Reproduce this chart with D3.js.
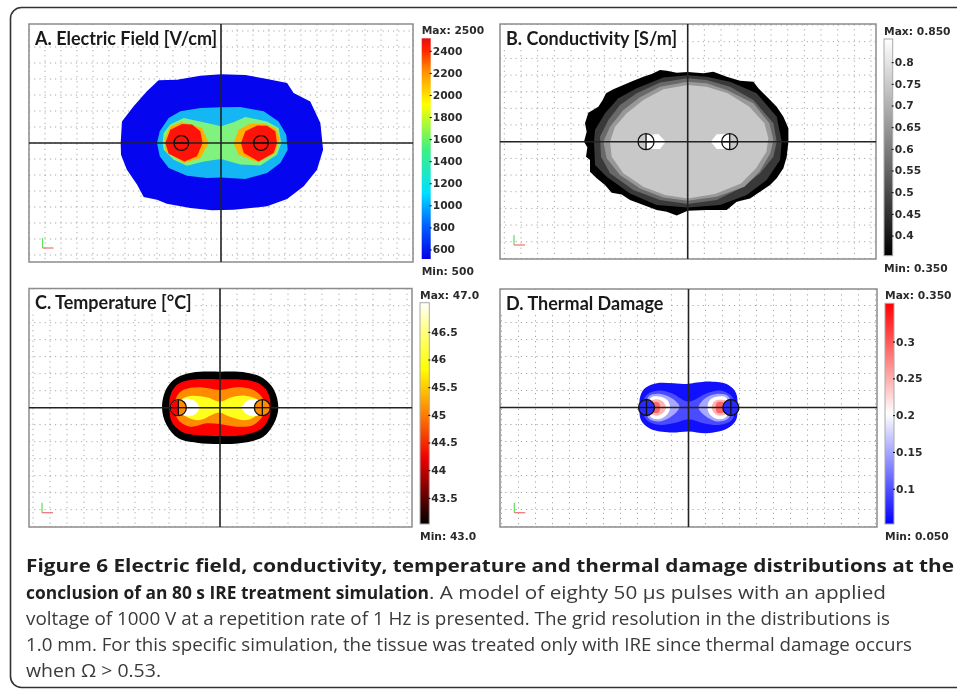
<!DOCTYPE html>
<html>
<head>
<meta charset="utf-8">
<script src="https://cdn.jsdelivr.net/npm/d3@7"></script>
<style>
html, body { margin: 0; padding: 0; background: #fff; overflow: hidden; }
svg { display: block; filter: blur(0.45px); }
.panel-title { font-family: Lato, sans-serif; font-weight: 700; fill: #1a1a1a; }
.bar-text { font-family: "DejaVu Sans", sans-serif; font-weight: 700; font-size: 10.7px; fill: #2a2a2a; }
.tick text { font-family: "DejaVu Sans", sans-serif; font-weight: 700; font-size: 10.7px; fill: #2a2a2a; }
.caption { font-family: "Open Sans", sans-serif; font-size: 18px; fill: #3a3a3a; }
.caption-b { font-family: "Open Sans", sans-serif; font-size: 18px; font-weight: 700; fill: #1f1f1f; }
</style>
</head>
<body>
<div id="chart"></div>
<script>
// all contour points are [x, y] in grid units from the centre of each plot
// A. electric field
var fieldOuter = [[0,4.29],[-1.29,4.21],[-2.75,3.96],[-3.9,3.92],[-4.63,3.23],[-5.46,2.29],[-6.19,1.35],[-6.27,0],[-6.25,-0.73],[-5.88,-1.67],[-5.25,-2.6],[-4.83,-3.38],[-4,-3.54],[-3.38,-3.79],[-1.92,-4.06],[-0.56,-4.21],[0.79,-4.17],[2.88,-3.96],[4.13,-3.5],[5.17,-2.71],[6,-1.67],[6.38,-0.42],[6.21,1.25],[5.58,2.6],[4.54,3.13],[4.13,3.75],[2.88,4],[1.52,4.25]]
var fieldCyan = [[0,2.23],[-1.29,2.19],[-2.54,1.98],[-3.27,1.56],[-3.83,0.73],[-4,0],[-3.83,-0.83],[-3.27,-1.56],[-2.13,-2.04],[-0.88,-2.19],[0,-2.15],[1.52,-2.25],[2.88,-1.88],[3.71,-1.25],[4.17,-0.42],[4.08,0.52],[3.6,1.35],[2.67,1.98],[1.21,2.25]]
var fieldGreen = [[0,1.04],[-0.88,1.25],[-2.33,1.56],[-3.17,1.15],[-3.58,0.63],[-3.65,0],[-3.58,-0.42],[-2.96,-1.04],[-2.13,-1.42],[-1.08,-1.15],[0,-1],[1.21,-1.35],[2.46,-1.4],[3.5,-0.73],[3.77,0],[3.6,0.94],[2.88,1.35],[1.52,1.63],[0.79,1.29]]
var fieldOrangeL = [[-2.44,1.31],[-3.17,1.04],[-3.54,0.21],[-3.44,-0.52],[-2.33,-1.25],[-1.29,-0.94],[-0.77,0],[-1.19,0.94]]
var fieldOrangeR = [[1.83,1.21],[1.1,0.83],[0.79,0],[1.1,-0.73],[2.35,-1.21],[3.4,-0.63],[3.67,0.31],[3.4,0.94],[2.67,1.21]]
var fieldRedL = [[-2.44,1.19],[-3.17,0.83],[-3.48,0],[-3.27,-0.67],[-2.29,-1.15],[-1.5,-0.83],[-1.15,0],[-1.29,0.73],[-1.81,1.15]]
var fieldRedR = [[2.25,1.1],[1.52,0.73],[1.25,0],[1.42,-0.63],[2.35,-1.15],[3.29,-0.63],[3.5,0],[3.4,0.73],[2.88,1.08]]
var fieldColors = ['#0505f0', '#14b6f4', '#80f27e', '#ffb000', '#ffb000', '#ff1208', '#ff1208']
var fieldTicks = [600,800,1000,1200,1400,1600,1800,2000,2200,2400]
var fieldStops = [500,800,1100,1500,1900,2200,2400,2500]
var fieldStopColors = ['#0000e6','#0060ff','#00e0ff','#40f080','#ffff00','#ff9000','#ff2000','#e01010']
var fieldElectrodes = [-2.48, 2.5]

// B. conductivity
var condOuter = [[0,4.18],[-0.66,4.14],[-1.26,4.26],[-1.66,4.3],[-2.16,4.06],[-2.66,3.9],[-3.26,3.66],[-3.86,3.4],[-4.46,3.14],[-4.9,2.9],[-5.1,2.5],[-5.36,2.1],[-5.96,1.74],[-6.16,1.1],[-6.06,0.6],[-6.22,0],[-6.02,-0.34],[-6.1,-0.9],[-5.86,-1.1],[-5.86,-1.8],[-5.46,-2.2],[-4.96,-2.6],[-4.56,-3.06],[-3.96,-3.16],[-3.46,-3.5],[-2.66,-3.8],[-1.86,-4.1],[-1.26,-4.2],[-0.66,-4.42],[0,-4.14],[1.14,-4.1],[2.34,-4.1],[2.94,-3.6],[3.74,-3.4],[4.34,-3],[4.94,-2.6],[5.34,-2.2],[5.74,-1.6],[5.94,-0.9],[6.04,0],[6.04,0.8],[5.74,1.5],[5.34,2.1],[4.84,2.6],[4.24,3.2],[3.94,3.6],[3.14,3.66],[2.34,3.9],[1.54,4.2],[0.94,4.1]]
var condGrey1 = [[0,3.98],[-1.46,3.85],[-3.06,3.2],[-4.16,2.6],[-4.96,1.7],[-5.56,0.7],[-5.62,0],[-5.56,-1.4],[-4.86,-2.1],[-3.46,-3.1],[-1.86,-3.8],[0,-3.94],[1.94,-3.8],[3.54,-3.2],[4.74,-2.3],[5.54,-1.1],[5.64,0],[5.34,1.5],[4.14,2.9],[2.54,3.6],[1.14,3.9]]
var condGrey2 = [[0,3.8],[-1.66,3.55],[-3.06,2.9],[-4.06,2.2],[-4.76,1.3],[-5.26,0.3],[-5.2,-0.9],[-4.66,-1.9],[-3.26,-2.9],[-1.66,-3.5],[0,-3.74],[1.74,-3.5],[3.34,-2.7],[4.34,-1.9],[5.14,-0.9],[5.34,0],[5.14,1.1],[3.94,2.5],[2.54,3.3],[1.14,3.7]]
var condGrey3 = [[0,3.6],[-1.66,3.3],[-2.86,2.66],[-3.86,1.9],[-4.66,0.9],[-5.06,0],[-4.86,-1],[-4.06,-2],[-2.86,-2.8],[-1.46,-3.34],[0,-3.54],[1.74,-3.3],[3.4,-2.7],[4.3,-1.8],[4.96,-0.7],[5.14,0.1],[4.9,1.1],[3.94,2.3],[2.34,3.1],[1.14,3.5]]
var condGrey4 = [[0,3.4],[-1.46,3.14],[-2.66,2.5],[-3.66,1.7],[-4.36,0.9],[-4.66,0],[-4.56,-0.9],[-3.86,-1.9],[-2.66,-2.7],[-1.36,-3.2],[0,-3.4],[1.64,-3.14],[3.2,-2.5],[4.1,-1.6],[4.72,-0.6],[4.84,0.2],[4.6,1.1],[3.7,2.1],[2.4,2.9],[1.14,3.3]]
var condWhiteL = [[-2.46,0.4],[-1.76,0.46],[-1.32,0],[-1.66,-0.44],[-2.46,-0.44]]
var condWhiteR = [[1.38,0],[1.74,0.44],[2.54,0.46],[2.54,-0.44],[1.74,-0.44]]
var condColors = ['#000000', '#393939', '#696969', '#989898', '#c8c8c8', '#ffffff', '#ffffff']
var condTicks = [0.4,0.45,0.5,0.55,0.6,0.65,0.7,0.75,0.8]
var condStops = [0.35,0.85]
var condStopColors = ['#000000','#ffffff']
var condElectrodes = [-2.5, 2.52]

// C. temperature
var tempOuter = [[0,2.12],[-1.67,2.06],[-2.55,1.76],[-3.14,1.14],[-3.41,0],[-3.14,-1.02],[-2.45,-1.8],[-1.37,-2.06],[0,-2.14],[1.37,-2.06],[2.55,-1.71],[3.18,-0.92],[3.43,0],[3.18,1.04],[2.55,1.73],[1.57,2.06]]
var tempRed = [[0,1.67],[-1.76,1.63],[-2.55,1.33],[-2.94,0.65],[-2.98,0],[-2.84,-0.82],[-2.25,-1.41],[-1.37,-1.61],[0,-1.67],[1.37,-1.61],[2.45,-1.22],[2.9,-0.53],[2.98,0],[2.84,0.84],[2.35,1.39],[1.57,1.63]]
var tempOrange = [[0,1.04],[-1.18,1.2],[-2.16,1.04],[-2.55,0.65],[-2.65,0],[-2.45,-0.73],[-1.76,-1.12],[-0.78,-0.92],[0,-0.96],[0.98,-1.12],[1.96,-1.02],[2.55,-0.43],[2.65,0],[2.45,0.65],[1.86,1.08],[0.98,1.2]]
var tempYellow = [[0,0.35],[-0.78,0.61],[-1.76,0.69],[-2.25,0.49],[-2.35,0],[-1.96,-0.53],[-1.18,-0.73],[-0.49,-0.43],[0,-0.29],[0.59,-0.53],[1.57,-0.73],[2.16,-0.43],[2.35,0],[2.16,0.49],[1.47,0.71],[0.69,0.61]]
var tempWhiteL = [[-2.16,0.49],[-1.57,0.45],[-1.22,0],[-1.53,-0.43],[-2.16,-0.43]]
var tempWhiteR = [[1.27,0],[1.67,0.45],[2.25,0.45],[2.25,-0.43],[1.67,-0.43]]
var tempColors = ['#000000', '#ff0000', '#ff8c00', '#ffff1e', '#ffffff', '#ffffff']
var tempTicks = [43.5,44,44.5,45,45.5,46,46.5]
var tempStops = [43,43.4,44.2,45,45.8,46.5,47]
var tempStopColors = ['#000000','#500000','#f00000','#ff8000','#ffff00','#ffff80','#ffffff']
var tempElectrodes = [-2.45, 2.49]

// D. thermal damage
var damageOuter = [[0,1.39],[-0.88,1.43],[-1.86,1.43],[-2.55,1.14],[-2.84,0.65],[-2.88,0],[-2.8,-0.73],[-2.25,-1.25],[-1.08,-1.47],[0,-1.41],[1.08,-1.51],[2.25,-1.25],[2.8,-0.73],[2.88,0],[2.8,0.84],[2.35,1.33],[1.27,1.53],[0.49,1.47]]
var damageBand = [[0,0.35],[-0.98,0.84],[-1.76,1],[-2.45,0.75],[-2.75,0],[-2.45,-0.73],[-1.76,-1.02],[-0.69,-0.88],[0,-0.69],[0.88,-0.92],[1.86,-1.02],[2.55,-0.73],[2.75,0],[2.55,0.65],[1.86,1],[1.08,0.84]]
var damageLightL = [[-0.53,0.06],[-0.98,0.55],[-1.67,0.8],[-2.35,0.65],[-2.45,0],[-2.35,-0.63],[-1.67,-0.82],[-0.88,-0.43]]
var damageLightR = [[0.59,0],[0.98,0.55],[1.67,0.8],[2.35,0.65],[2.49,0],[2.35,-0.63],[1.67,-0.82],[0.98,-0.49]]
var damageWhiteL = [[-1.08,0],[-1.27,0.45],[-1.76,0.65],[-2.25,0.55],[-2.25,-0.53],[-1.76,-0.69],[-1.27,-0.43]]
var damageWhiteR = [[1.12,0],[1.27,0.45],[1.76,0.65],[2.25,0.55],[2.25,-0.53],[1.76,-0.69],[1.27,-0.43]]
var damagePinkL = [[-1.33,0],[-1.51,0.35],[-1.86,0.49],[-2.25,0.35],[-2.25,-0.33],[-1.86,-0.49],[-1.51,-0.33]]
var damagePinkR = [[1.37,0],[1.51,0.35],[1.86,0.45],[2.25,0.35],[2.25,-0.33],[1.86,-0.49],[1.51,-0.33]]
var damageRedL = [[-1.67,0],[-1.76,0.29],[-2.06,0.29],[-2.06,-0.29],[-1.76,-0.29]]
var damageRedR = [[1.61,0],[1.67,0.29],[2.06,0.29],[2.06,-0.29],[1.67,-0.29]]
var damageColors = ['#1010fc', '#4b4bff', '#a8a8ff', '#a8a8ff', '#ffffff', '#ffffff', '#ffb4b4', '#ffb4b4', '#ff6464', '#ff6464']
var damageTicks = [0.1,0.15,0.2,0.25,0.3]
var damageStops = [0.05,0.2,0.35]
var damageStopColors = ['#0000ff','#ffffff','#ff0000']
var damageElectrodes = [-2.47, 2.49]

var panelTitles = ['A. Electric Field [V/cm]', 'B. Conductivity [S/m]', 'C. Temperature [°C]', 'D. Thermal Damage']
var maxLabels = ['Max: 2500', 'Max: 0.850', 'Max: 47.0', 'Max: 0.350']
var minLabels = ['Min: 500', 'Min: 0.350', 'Min: 43.0', 'Min: 0.050']

var width = 957
var height = 691

var svg = d3.select('#chart')
    .append('svg')
    .attr('width', width)
    .attr('height', height)

// outer figure frame, runs off the right side of the page
svg.append('rect')
    .attr('x', 10.5)
    .attr('y', 7.5)
    .attr('width', 1000)
    .attr('height', 680)
    .attr('rx', 11)
    .attr('fill', 'none')
    .attr('stroke', '#333')
    .attr('stroke-width', 1.6)

var panels = [
    {title: panelTitles[0], maxLabel: maxLabels[0], minLabel: minLabels[0], box: [29, 24, 413, 262], cx: 221, cy: 143, unit: 16, titleW: 190,
     shapes: [fieldOuter, fieldCyan, fieldGreen, fieldOrangeL, fieldOrangeR, fieldRedL, fieldRedR], colors: fieldColors, curve: d3.curveLinearClosed,
     electrodes: fieldElectrodes, radius: 0.46, cross: false, fill: ['none', 'none'],
     bar: [421.7, 38.3, 430.7, 259], barMin: 500, barMax: 2500, ticks: fieldTicks, stops: fieldStops, stopColors: fieldStopColors, triad: [42.5, 248]},
    {title: panelTitles[1], maxLabel: maxLabels[1], minLabel: minLabels[1], box: [500, 24, 876, 259], cx: 687.7, cy: 141.7, unit: 16.67, titleW: 180,
     shapes: [condOuter, condGrey1, condGrey2, condGrey3, condGrey4, condWhiteL, condWhiteR], colors: condColors, curve: d3.curveLinearClosed,
     electrodes: condElectrodes, radius: 0.48, cross: true, fill: ['none', 'none'],
     bar: [884, 39, 892.7, 255.7], barMin: 0.35, barMax: 0.85, ticks: condTicks, stops: condStops, stopColors: condStopColors, triad: [514, 245]},
    {title: panelTitles[2], maxLabel: maxLabels[2], minLabel: minLabels[2], box: [29, 288.5, 412, 527], cx: 220, cy: 407.7, unit: 17, titleW: 165,
     shapes: [tempOuter, tempRed, tempOrange, tempYellow, tempWhiteL, tempWhiteR], colors: tempColors, curve: d3.curveCatmullRomClosed,
     electrodes: tempElectrodes, radius: 0.47, cross: true, fill: ['#ff8c00', '#ff8c00'],
     bar: [420, 302.7, 429.3, 524], barMin: 43, barMax: 47, ticks: tempTicks, stops: tempStops, stopColors: tempStopColors, triad: [42, 512.7]},
    {title: panelTitles[3], maxLabel: maxLabels[3], minLabel: minLabels[3], box: [500, 289, 877, 527], cx: 688.5, cy: 407.5, unit: 17, titleW: 170,
     shapes: [damageOuter, damageBand, damageLightL, damageLightR, damageWhiteL, damageWhiteR, damagePinkL, damagePinkR, damageRedL, damageRedR], colors: damageColors, curve: d3.curveCatmullRomClosed,
     electrodes: damageElectrodes, radius: 0.47, cross: true, fill: ['#2a2aff', '#2a2aff'],
     bar: [885, 303.3, 894, 524], barMin: 0.05, barMax: 0.35, ticks: damageTicks, stops: damageStops, stopColors: damageStopColors, triad: [514.3, 512.7]}
]

panels.forEach(function(p, idx){
    var x0 = p.box[0], y0 = p.box[1], x1 = p.box[2], y1 = p.box[3]
    var x = d3.scaleLinear()
        .domain([(x0 - p.cx) / p.unit, (x1 - p.cx) / p.unit])
        .range([x0, x1])
    var y = d3.scaleLinear()
        .domain([(p.cy - y1) / p.unit, (p.cy - y0) / p.unit])
        .range([y1, y0])

    var g = svg.append('g')

    // dotted grid
    var gridX = d3.range(Math.ceil(x.domain()[0]), Math.floor(x.domain()[1]) + 1)
    var gridY = d3.range(Math.ceil(y.domain()[0]), Math.floor(y.domain()[1]) + 1)
    g.selectAll('.gx').data(gridX).enter().append('line')
        .attr('x1', function(d){ return x(d) })
        .attr('x2', function(d){ return x(d) })
        .attr('y1', y0)
        .attr('y2', y1)
        .attr('stroke', '#a8a8a8')
        .attr('stroke-width', 1)
        .attr('stroke-dasharray', '1.2 4')
    g.selectAll('.gy').data(gridY).enter().append('line')
        .attr('x1', x0)
        .attr('x2', x1)
        .attr('y1', function(d){ return y(d) })
        .attr('y2', function(d){ return y(d) })
        .attr('stroke', '#a8a8a8')
        .attr('stroke-width', 1)
        .attr('stroke-dasharray', '1.2 4')

    // white patch behind the title
    g.append('rect')
        .attr('x', x0 + 1)
        .attr('y', y0 + 1)
        .attr('width', p.titleW)
        .attr('height', 21)
        .attr('fill', '#fff')

    // contours, back to front
    var line = d3.line()
        .x(function(d){ return x(d[0]) })
        .y(function(d){ return y(d[1]) })
        .curve(p.curve)
    g.selectAll('.band').data(p.shapes).enter().append('path')
        .attr('d', line)
        .attr('fill', function(d, i){ return p.colors[i] })

    // frame and centre lines
    g.append('rect')
        .attr('x', x0)
        .attr('y', y0)
        .attr('width', x1 - x0)
        .attr('height', y1 - y0)
        .attr('fill', 'none')
        .attr('stroke', '#8c8c8c')
        .attr('stroke-width', 1.5)
    g.append('line')
        .attr('x1', x0).attr('x2', x1)
        .attr('y1', y(0)).attr('y2', y(0))
        .attr('stroke', '#222').attr('stroke-width', 1.6)
    g.append('line')
        .attr('x1', x(0)).attr('x2', x(0))
        .attr('y1', y0).attr('y2', y1)
        .attr('stroke', '#222').attr('stroke-width', 1.6)

    // electrodes
    var r = (x(1) - x(0)) * p.radius
    p.electrodes.forEach(function(e, i){
        g.append('circle')
            .attr('cx', x(e))
            .attr('cy', y(0))
            .attr('r', r)
            .attr('fill', p.fill[i])
            .attr('stroke', '#111')
            .attr('stroke-width', 1.3)
        if(idx == 2 && i == 0){
            // left probe in C sits half in the red band
            g.append('path')
                .attr('transform', 'translate(' + x(e) + ',' + y(0) + ')')
                .attr('d', d3.arc()({innerRadius: 0, outerRadius: r - 0.6, startAngle: Math.PI, endAngle: 2 * Math.PI}))
                .attr('fill', '#ff0000')
        }
        g.append('line')
            .attr('x1', x(e) - r).attr('x2', x(e) + r)
            .attr('y1', y(0)).attr('y2', y(0))
            .attr('stroke', '#111').attr('stroke-width', 1.3)
        if(p.cross){
            g.append('line')
                .attr('x1', x(e)).attr('x2', x(e))
                .attr('y1', y(0) - r).attr('y2', y(0) + r)
                .attr('stroke', '#111').attr('stroke-width', 1.3)
        }
    })

    // little xyz triad
    g.append('line')
        .attr('x1', p.triad[0]).attr('x2', p.triad[0])
        .attr('y1', p.triad[1]).attr('y2', p.triad[1] - 10)
        .attr('stroke', '#5ce05c').attr('stroke-width', 1.2)
    g.append('line')
        .attr('x1', p.triad[0]).attr('x2', p.triad[0] + 11)
        .attr('y1', p.triad[1]).attr('y2', p.triad[1])
        .attr('stroke', '#f07070').attr('stroke-width', 1.2)

    // title
    g.append('text')
        .attr('class', 'panel-title')
        .attr('x', x0 + 6)
        .attr('y', y0 + 20.5)
        .attr('font-size', 18)
        .text(p.title)

    // colour bar
    var barY = d3.scaleLinear().domain([p.barMin, p.barMax]).range([p.bar[3], p.bar[1]])
    var gradId = 'bar' + idx
    var grad = svg.append('defs').append('linearGradient')
        .attr('id', gradId)
        .attr('x1', 0).attr('x2', 0).attr('y1', 1).attr('y2', 0)
    grad.selectAll('stop').data(p.stops).enter().append('stop')
        .attr('offset', function(d){ return (d - p.barMin) / (p.barMax - p.barMin) })
        .attr('stop-color', function(d, i){ return p.stopColors[i] })
    g.append('rect')
        .attr('x', p.bar[0])
        .attr('y', p.bar[1])
        .attr('width', p.bar[2] - p.bar[0])
        .attr('height', p.bar[3] - p.bar[1])
        .attr('fill', 'url(#' + gradId + ')')
        .attr('stroke', idx == 0 ? 'none' : '#aaa')
        .attr('stroke-width', 1)
    var axis = d3.axisRight(barY)
        .tickValues(p.ticks)
        .tickSize(2)
        .tickPadding(1)
        .tickFormat(function(d){ return d })
    var axisG = g.append('g')
        .attr('transform', 'translate(' + (p.bar[2] - 1) + ',1.5)')
        .call(axis)
    axisG.select('.domain').remove()
    g.append('text').attr('class', 'bar-text')
        .attr('x', p.bar[0])
        .attr('y', p.bar[1] - 4)
        .text(p.maxLabel)
    g.append('text').attr('class', 'bar-text')
        .attr('x', p.bar[0])
        .attr('y', p.bar[3] + 16)
        .text(p.minLabel)
})

// caption
var capX = 26
svg.append('text').attr('class', 'caption-b')
    .attr('x', capX).attr('y', 572)
    .attr('textLength', 928).attr('lengthAdjust', 'spacingAndGlyphs')
    .text('Figure 6 Electric field, conductivity, temperature and thermal damage distributions at the')
svg.append('text').attr('class', 'caption-b')
    .attr('x', capX).attr('y', 599)
    .attr('textLength', 403).attr('lengthAdjust', 'spacingAndGlyphs')
    .text('conclusion of an 80 s IRE treatment simulation')
svg.append('text').attr('class', 'caption')
    .attr('x', 429).attr('y', 599)
    .attr('textLength', 457).attr('lengthAdjust', 'spacingAndGlyphs')
    .text('. A model of eighty 50 µs pulses with an applied')
svg.append('text').attr('class', 'caption')
    .attr('x', capX).attr('y', 625)
    .attr('textLength', 864).attr('lengthAdjust', 'spacingAndGlyphs')
    .text('voltage of 1000 V at a repetition rate of 1 Hz is presented. The grid resolution in the distributions is')
svg.append('text').attr('class', 'caption')
    .attr('x', capX).attr('y', 651)
    .attr('textLength', 886).attr('lengthAdjust', 'spacingAndGlyphs')
    .text('1.0 mm. For this specific simulation, the tissue was treated only with IRE since thermal damage occurs')
svg.append('text').attr('class', 'caption')
    .attr('x', capX).attr('y', 677)
    .attr('textLength', 135).attr('lengthAdjust', 'spacingAndGlyphs')
    .text('when Ω > 0.53.')
</script>
</body>
</html>
